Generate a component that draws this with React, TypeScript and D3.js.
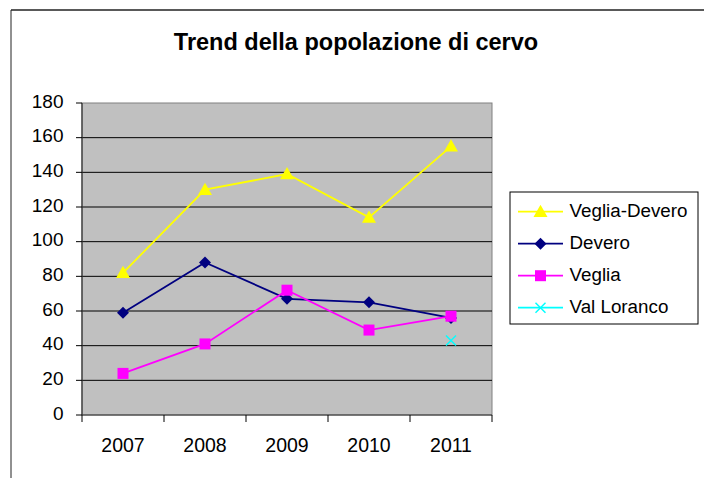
import React from "react";
import * as d3 from "d3";

const years = ["2007", "2008", "2009", "2010", "2011"];
const vegliaDevero = [82, 130, 139, 114, 155];
const devero = [59, 88, 67, 65, 56];
const veglia = [24, 41, 72, 49, 57];
const valLoranco: (number | null)[] = [null, null, null, null, 43];
const yTicks = [0, 20, 40, 60, 80, 100, 120, 140, 160, 180];

const series = [
  { name: "Veglia-Devero", values: vegliaDevero as (number | null)[], color: "#FFFF00", marker: "triangle" },
  { name: "Devero", values: devero as (number | null)[], color: "#000080", marker: "diamond" },
  { name: "Veglia", values: veglia as (number | null)[], color: "#FF00FF", marker: "square" },
  { name: "Val Loranco", values: valLoranco, color: "#00FFFF", marker: "cross" },
];

const FONT = "'Liberation Sans', Arial, sans-serif";

function Marker({ type, x, y, color }: { type: string; x: number; y: number; color: string }) {
  if (type === "triangle") {
    const s = 7;
    return <path d={`M${x},${y - s} L${x + s},${y + s * 0.75} L${x - s},${y + s * 0.75} Z`} fill={color} />;
  }
  if (type === "diamond") {
    const s = 6;
    return <path d={`M${x},${y - s} L${x + s},${y} L${x},${y + s} L${x - s},${y} Z`} fill={color} />;
  }
  if (type === "square") {
    const s = 5.5;
    return <rect x={x - s} y={y - s} width={2 * s} height={2 * s} fill={color} />;
  }
  const s = 5;
  return (
    <g stroke={color} strokeWidth={1.5}>
      <line x1={x - s} y1={y - s} x2={x + s} y2={y + s} />
      <line x1={x - s} y1={y + s} x2={x + s} y2={y - s} />
    </g>
  );
}

export default function App() {
  const W = 704, H = 478;
  const left = 82, right = 492, top = 103, bottom = 415;
  const x = d3.scaleBand().domain(years).range([left, right]);
  const y = d3.scaleLinear().domain([0, 180]).range([bottom, top]);
  const cx = (yr: string) => (x(yr) as number) + x.bandwidth() / 2;

  return (
    <svg width={W} height={H} style={{ position: "absolute", left: 0, top: 0 }} fontFamily={FONT}>
      <rect x={0} y={0} width={W} height={H} fill="#fff" />
      <line x1={11} y1={10} x2={W} y2={10} stroke="#222" strokeWidth={1.5} />
      <line x1={11} y1={10} x2={11} y2={H} stroke="#222" strokeWidth={1} />
      <text x={356} y={49.5} textAnchor="middle" fontWeight="bold" fontSize={23.5}>
        Trend della popolazione di cervo
      </text>
      <rect x={left} y={top} width={right - left} height={bottom - top} fill="#C0C0C0" stroke="#808080" strokeWidth={1} />
      {yTicks.filter((t) => t > 0 && t < 180).map((t) => (
        <line key={t} x1={left} x2={right} y1={y(t)} y2={y(t)} stroke="#000" strokeWidth={1} />
      ))}
      <line x1={left} x2={left} y1={top} y2={bottom} stroke="#333" strokeWidth={1.2} />
      <line x1={left} x2={right} y1={bottom} y2={bottom} stroke="#333" strokeWidth={1.2} />
      {yTicks.map((t) => (
        <g key={t}>
          <line x1={left - 6} x2={left} y1={y(t)} y2={y(t)} stroke="#000" />
          <text x={63.5} y={y(t) + 4.7} textAnchor="end" fontSize={19}>{t}</text>
        </g>
      ))}
      {years.map((yr) => (
        <g key={yr}>
          <line x1={x(yr) as number} x2={x(yr) as number} y1={bottom} y2={bottom + 7} stroke="#000" />
          <text x={cx(yr)} y={452.3} textAnchor="middle" fontSize={19.5}>{yr}</text>
        </g>
      ))}
      <line x1={right} x2={right} y1={bottom} y2={bottom + 7} stroke="#000" />
      {series.map((s) => {
        const pts = years.map((yr, i) => [yr, s.values[i]] as [string, number | null]);
        const line = d3.line<[string, number | null]>()
          .defined((d) => d[1] !== null)
          .x((d) => cx(d[0]))
          .y((d) => y(d[1] as number));
        return (
          <g key={s.name}>
            <path d={line(pts) || ""} fill="none" stroke={s.color} strokeWidth={1.8} />
            {pts.filter((d) => d[1] !== null).map((d) => (
              <Marker key={d[0]} type={s.marker} x={cx(d[0])} y={y(d[1] as number)} color={s.color} />
            ))}
          </g>
        );
      })}
      <rect x={510} y={192} width={188} height={132} fill="#fff" stroke="#000" strokeWidth={1} />
      {series.map((s, i) => {
        const ly = 211.7 + i * 32;
        return (
          <g key={s.name}>
            <line x1={518} x2={563} y1={ly} y2={ly} stroke={s.color} strokeWidth={1.8} />
            <Marker type={s.marker} x={540.5} y={ly} color={s.color} />
            <text x={569.5} y={ly + 5.5} fontSize={18.8}>{s.name}</text>
          </g>
        );
      })}
    </svg>
  );
}
